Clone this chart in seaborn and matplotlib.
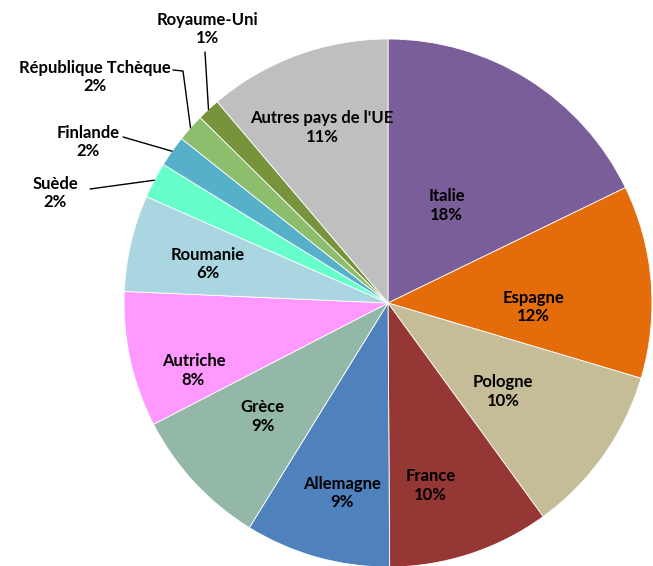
import numpy as np
import matplotlib
matplotlib.use("Agg")
import matplotlib.pyplot as plt
import seaborn as sns

# Share per country (percent)
countries = ["Italie", "Espagne", "Pologne", "France", "Allemagne", "Grèce",
             "Autriche", "Roumanie", "Suède", "Finlande", "République Tchèque",
             "Royaume-Uni", "Autres pays de l'UE"]
shares = [17.8, 11.8, 10.4, 9.9, 8.9, 8.6, 8.3, 5.9, 2.2, 1.9, 1.7, 1.4, 11.2]
colors = ["#7A5E9A", "#E46C0A", "#C4BD97", "#953735", "#4F81BD", "#93B8A8",
          "#FF99FF", "#A9D6E0", "#66FFCC", "#57B0C9", "#8DBE6E", "#77933C",
          "#BFBFBF"]

sns.set_theme(style="white")
plt.rcParams["font.family"] = ["Lato", "DejaVu Sans"]

W, H = 653, 566
fig = plt.figure(figsize=(W / 100, H / 100), dpi=100)
ax = fig.add_axes([0, 0, 1, 1])

cx, cy, r = 388, H - 303, 264
wedges, _ = ax.pie(shares, colors=colors, startangle=90, counterclock=False,
                   center=(cx, cy), radius=r,
                   wedgeprops=dict(edgecolor="white", linewidth=0.6))

# labels inside the big slices: (fraction of radius, angle nudge in degrees)
inside = {0: (0.43, 1), 1: (0.55, -6.3), 2: (0.55, -2.4), 3: (0.71, -5),
          4: (0.74, 2), 5: (0.64, -0.7), 6: (0.78, 6.7), 7: (0.70, 0.9),
          12: (0.71, 0.4)}
txt = dict(fontsize=12, fontweight="bold", color="black",
           ha="center", va="center", linespacing=1.2)

for i, w in enumerate(wedges):
    if i in inside:
        f, nudge = inside[i]
        mid = np.deg2rad((w.theta1 + w.theta2) / 2 + nudge)
        ax.text(cx + f * r * np.cos(mid), cy + f * r * np.sin(mid),
                f"{countries[i]}\n{round(shares[i]):d}%", **txt)

# small slices: outside labels with leader lines
outside = {
    8: dict(text=(55, 193), path=[(90, 189)]),
    9: dict(text=(88, 142), path=[(123, 137)]),
    10: dict(text=(95, 77), path=[(173, 70), (183, 71)]),
    11: dict(text=(207, 29), path=[(205, 52)]),
}
for i, o in outside.items():
    w = wedges[i]
    mid = np.deg2rad((w.theta1 + w.theta2) / 2)
    ex, ey = cx + r * np.cos(mid), cy + r * np.sin(mid)
    pts = [(x, H - y) for x, y in o["path"]] + [(ex, ey)]
    xs, ys = zip(*pts)
    ax.plot(xs, ys, color="black", lw=1.0)
    tx, ty = o["text"]
    ax.text(tx, H - ty, f"{countries[i]}\n{round(shares[i]):d}%", **txt)

ax.set_xlim(0, W)
ax.set_ylim(0, H)
ax.set_aspect("equal")
ax.axis("off")

fig.savefig("out.png", dpi=100)
